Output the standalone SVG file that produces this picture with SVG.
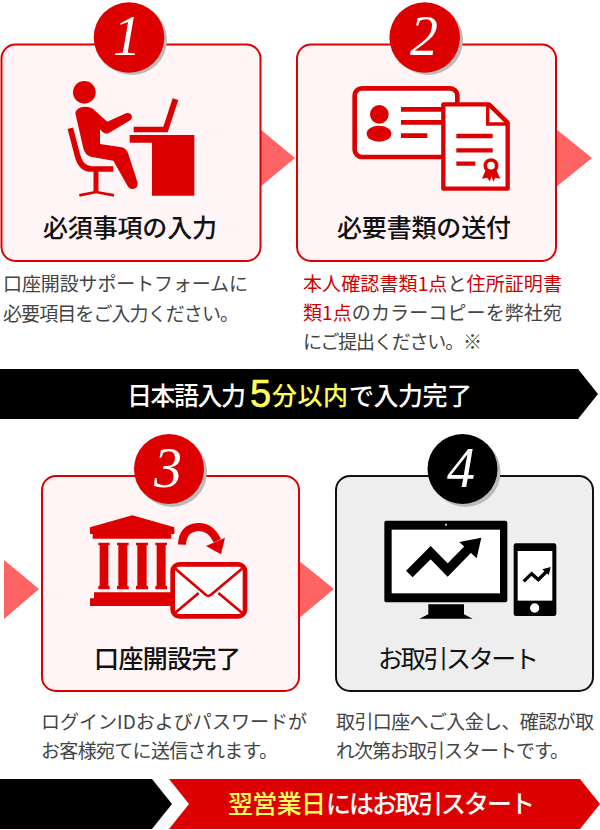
<svg xmlns="http://www.w3.org/2000/svg" width="600" height="830" viewBox="0 0 600 830">
<style>
text{font-family:"Noto Sans CJK JP","Liberation Sans",sans-serif}
.box{fill:#fff5f6;stroke:#dc0000;stroke-width:2}
.gbox{fill:#eee;stroke:#111;stroke-width:2}
.arr{fill:#fe6464}
.sh{fill:#bbb}
.num{font-family:"Liberation Serif",serif;font-style:italic;font-size:56px;fill:#fff;text-anchor:middle}
.ttl{font-size:25px;font-weight:500;fill:#111}
.body{font-size:19px;fill:#444}
.red{fill:#d00000}
.ban{font-size:25px;font-weight:500;fill:#fff}
.yel{fill:#ffff55}
.r{fill:#dc0000}
.rs{fill:none;stroke:#dc0000;stroke-linecap:butt}
.k{fill:#000}
</style>
<rect width="600" height="830" fill="#fff"/>
<g id="connectors">
<polygon class="arr" points="260,129 295,158 260,187"/>
<polygon class="arr" points="556,129 592,158 556,187"/>
<polygon class="arr" points="4,560 39,589 4,619"/>
<polygon class="arr" points="298,560 334,589 298,619"/>
</g>
<g id="node1">
<rect class="box" x="1.5" y="44.500" width="259" height="216.500" rx="14"/>
<circle class="sh" cx="132" cy="40" r="35"/>
<circle class="r" cx="129" cy="37.500" r="35.300"/>
<text class="num" x="127" y="55">1</text>
<g transform="scale(.33333)">
<circle class="r" cx="253" cy="277" r="34"/>
<path class="r" d="M226 340Q230 320 255 320Q275 320 285 332L322 365L378 340Q392 336 396 350Q396 358 388 362L328 398Q318 404 308 396L300 388V432L365 442Q380 445 385 462L413 548Q414 565 398 567Q388 567 383 558L340 482L272 470Q255 465 250 445Z"/>
<path class="rs" d="M211 385L232 465Q242 507 275 507H340" stroke-width="17" stroke-linecap="round"/>
<path class="rs" d="M288 510V578" stroke-width="15"/>
<path class="rs" d="M238 586L288 576L342 586" stroke-width="8"/>
<path class="r" d="M389 405H583V587H456V428H389Z"/>
<path class="r" d="M401 380H490L518 295L535 300L503 397H401Z"/>
</g>
<text class="ttl" x="43" y="237" textLength="174">必須事項の入力</text>
</g>
<g id="node2">
<rect class="box" x="297" y="44.500" width="259" height="216.500" rx="14"/>
<circle class="sh" cx="428" cy="40" r="35"/>
<circle class="r" cx="424.700" cy="37.500" r="35.300"/>
<text class="num" x="424" y="55">2</text>
<g transform="translate(290,0) scale(.33333)">
<rect x="194" y="265" width="308" height="206" rx="22" fill="#fff" stroke="#dc0000" stroke-width="14"/>
<circle class="r" cx="268" cy="343" r="28"/>
<ellipse class="r" cx="267" cy="401" rx="37" ry="24"/>
<path class="rs" stroke-width="14" d="M333 328H460M333 367H460M333 407H412"/>
<path d="M460 313H597L653 368V566H460Z" fill="#fff" stroke="#dc0000" stroke-width="13" stroke-linejoin="round"/>
<path d="M593 313V372H653" fill="none" stroke="#dc0000" stroke-width="10"/>
<path class="rs" stroke-width="13" d="M499 408H608M499 451H608M499 491H556"/>
<circle cx="603" cy="497" r="17" fill="#fff" stroke="#dc0000" stroke-width="11"/>
<path class="r" d="M586 512L576 536L592 533L600 545L604 528L610 545L616 533L631 536L620 512Z"/>
</g>
<text class="ttl" x="337" y="237" textLength="174">必要書類の送付</text>
</g>
<g id="text1">
<text class="body" x="3" y="291" textLength="245">口座開設サポートフォームに</text>
<text class="body" x="3" y="321" textLength="236">必要項目をご入力ください。</text>
</g>
<g id="text2">
<text class="body" x="303" y="291" textLength="259"><tspan class="red">本人確認書類1点</tspan>と<tspan class="red">住所証明書</tspan></text>
<text class="body" x="303" y="320" textLength="259"><tspan class="red">類1点</tspan>のカラーコピーを弊社宛</text>
<text class="body" x="303" y="349" textLength="179">にご提出ください。※</text>
</g>
<g id="banner1">
<polygon class="k" points="0,369 578,369 598,394 578,419 0,419"/>
<text class="ban" x="127" y="405" textLength="119">日本語入力</text>
<text class="yel" x="250" y="407" stroke="#ffff55" stroke-width=".6" style="font-size:38px;font-family:'Liberation Sans',sans-serif">5</text>
<text class="ban yel" x="272" y="405" textLength="76">分以内</text>
<text class="ban" x="349" y="405" textLength="123">で入力完了</text>
</g>
<g id="node3">
<rect class="box" x="42" y="476" width="257" height="215" rx="14"/>
<circle class="sh" cx="172" cy="472" r="35"/>
<circle class="r" cx="169" cy="469" r="35"/>
<text class="num" x="168" y="487">3</text>
<g transform="translate(0,430) scale(.33333)">
<path class="r" d="M270 292L397 256L523 292V312H514V326H278V312H270Z"/>
<path class="r" d="M295 338H329V346H325V468H329V478H295V468H299V346H295ZM351 338H386V346H382V468H386V478H351V468H355V346H351ZM408 338H444V346H440V468H444V478H408V468H412V346H408ZM466 338H501V346H497V468H501V478H466V468H470V346H466Z"/>
<path class="r" d="M282 487H530V528H270V505H282Z"/>
<path class="rs" stroke-width="24" d="M546 344Q548 294 595 291Q632 290 652 332"/>
<path class="r" d="M618 348L675 323L663 373Z"/>
<rect x="518" y="403" width="217" height="156" rx="20" fill="#fff" stroke="#dc0000" stroke-width="14"/>
<path class="rs" stroke-width="8" d="M526 416L618 495Q625 500 632 495L726 416M526 548L596 489M726 548L655 489"/>
</g>
<text class="ttl" x="94" y="668" textLength="147">口座開設完了</text>
</g>
<g id="node4">
<rect class="gbox" x="336" y="476" width="257" height="215" rx="14"/>
<circle class="sh" cx="465.500" cy="472" r="35"/>
<circle class="k" cx="462.500" cy="469" r="35"/>
<text class="num" x="461" y="487">4</text>
<g transform="translate(300,430) scale(.33333)">
<rect class="k" x="253" y="272" width="369" height="245" rx="6"/>
<rect x="275" y="299" width="325" height="191" fill="#fff"/>
<circle cx="438" cy="284" r="3" fill="#fff"/>
<path class="k" d="M385 523H492V553L518 566H358L385 553Z"/>
<path d="M328 432L392 368L443 420L510 352" fill="none" stroke="#000" stroke-width="28"/>
<path class="k" d="M478 336L544 323L530 385Z"/>
<rect class="k" x="641" y="340" width="128" height="218" rx="7"/>
<rect x="653" y="363" width="104" height="149" fill="#fff"/>
<circle cx="704" cy="534" r="14" fill="#fff"/>
<path d="M671 454L695 431L715 449L738 426" fill="none" stroke="#000" stroke-width="10"/>
<path class="k" d="M727 418L752 411L746 435Z"/>
</g>
<text class="ttl" x="378" y="668" textLength="161" style="font-weight:400">お取引スタート</text>
</g>
<g id="text3">
<text class="body" x="41" y="729" textLength="266">ログインIDおよびパスワードが</text>
<text class="body" x="41" y="758" textLength="237">お客様宛てに送信されます。</text>
</g>
<g id="text4">
<text class="body" x="336" y="729" textLength="258">取引口座へご入金し、確認が取</text>
<text class="body" x="336" y="758" textLength="233">れ次第お取引スタートです。</text>
</g>
<g id="banner2">
<polygon class="k" points="0,779 152,779 172,804 152,829 0,829"/>
<polygon class="r" points="169,779 580,779 600,804 580,829 169,829 189,804"/>
<text class="ban yel" x="228" y="813" textLength="98">翌営業日</text>
<text class="ban" x="326" y="813" textLength="209">にはお取引スタート</text>
</g>
</svg>
